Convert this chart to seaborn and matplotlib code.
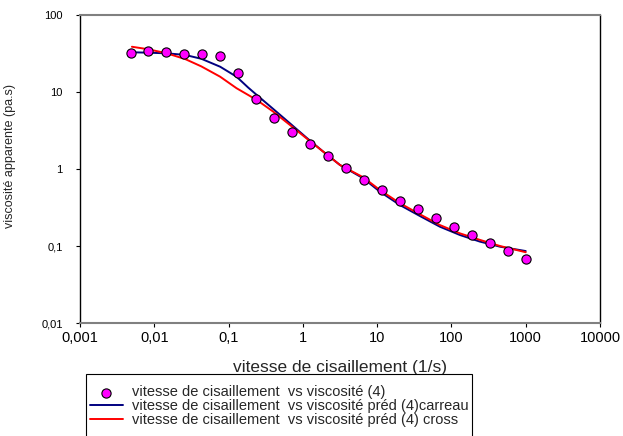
import pandas as pd
import seaborn as sns
import matplotlib.pyplot as plt
from matplotlib.patches import Rectangle
from matplotlib.ticker import FixedLocator, NullLocator

# measured points: shear rate (1/s) vs apparent viscosity (Pa.s)
shear_rate = [0.0048, 0.0083, 0.0145, 0.025, 0.044, 0.077, 0.135, 0.235, 0.41, 0.72,
              1.25, 2.2, 3.8, 6.7, 11.6, 20.4, 35.6, 62, 108, 189, 331, 578, 1000]
viscosity = [31.8, 34.1, 32.8, 31.4, 31.2, 29.1, 17.8, 8.0, 4.6, 3.05,
             2.09, 1.49, 1.03, 0.73, 0.53, 0.38, 0.30, 0.23, 0.177, 0.14, 0.11, 0.087, 0.067]

# model curves
fit_rate = [0.005, 0.0083, 0.0147, 0.026, 0.043, 0.077, 0.128, 0.184, 0.24, 0.40, 0.67,
            1.12, 1.88, 3.16, 6.5, 10.9, 20.3, 37.7, 70, 130, 242, 450, 1000]
carreau = [32.8, 32.4, 31.8, 30.3, 27.0, 21.3, 15.8, 11.4, 9.14, 6.01, 3.92,
           2.55, 1.68, 1.127, 0.757, 0.507, 0.340, 0.245, 0.178, 0.139, 0.114, 0.098, 0.086]
cross = [38.7, 35.9, 31.8, 26.8, 21.5, 15.8, 11.2, 9.14, 7.87, 5.55, 3.73,
         2.50, 1.68, 1.127, 0.780, 0.533, 0.359, 0.258, 0.187, 0.146, 0.120, 0.100, 0.083]

x_ticks = [0.001, 0.01, 0.1, 1, 10, 100, 1000, 10000]
x_tick_labels = ["0,001", "0,01", "0,1", "1", "10", "100", "1000", "10000"]
y_ticks = [0.01, 0.1, 1, 10, 100]
y_tick_labels = ["0,01", "0,1", "1", "10", "100"]

label_pts = "vitesse de cisaillement  vs viscosité (4)"
label_carreau = "vitesse de cisaillement  vs viscosité préd (4)carreau"
label_cross = "vitesse de cisaillement  vs viscosité préd (4) cross"

sns.set_style("white")
plt.rcParams["font.family"] = ["Liberation Sans", "DejaVu Sans"]

pts = pd.DataFrame({"rate": shear_rate, "visc": viscosity})
fits = pd.DataFrame({"rate": fit_rate, "carreau": carreau, "cross": cross})

fig = plt.figure(figsize=(6.23, 4.36), dpi=100)
ax = fig.add_axes([80 / 623, 113 / 436, 520 / 623, 308 / 436])
ax.set_xscale("log")
ax.set_yscale("log")

sns.scatterplot(data=pts, x="rate", y="visc", ax=ax, color="#FF00FF", edgecolor="black",
                linewidth=0.8, s=44, label=label_pts, zorder=3)
sns.lineplot(data=fits, x="rate", y="carreau", ax=ax, color="#000080", linewidth=1.4,
             label=label_carreau, zorder=2)
sns.lineplot(data=fits, x="rate", y="cross", ax=ax, color="#FF0000", linewidth=1.4,
             label=label_cross, zorder=2)

ax.set_xlim(0.001, 10000)
ax.set_ylim(0.01, 100)
ax.xaxis.set_major_locator(FixedLocator(x_ticks))
ax.yaxis.set_major_locator(FixedLocator(y_ticks))
ax.xaxis.set_minor_locator(NullLocator())
ax.yaxis.set_minor_locator(NullLocator())
ax.set_xticklabels(x_tick_labels, fontsize=10.5)
ax.set_yticklabels(y_tick_labels, fontsize=8)
ax.tick_params(axis="x", bottom=True, direction="out", length=3, width=0.8, pad=3, colors="black")
ax.tick_params(axis="y", left=True, direction="out", length=3, width=0.8, pad=9.4, colors="black")

for side in ["left", "right"]:
    ax.spines[side].set_color("black")
    ax.spines[side].set_linewidth(1.0)
for side in ["top", "bottom"]:
    ax.spines[side].set_color("#808080")
    ax.spines[side].set_linewidth(1.5)

ax.set_xlabel("vitesse de cisaillement (1/s)", fontsize=12.5)
ax.set_ylabel("viscosité apparente (pa.s)", fontsize=9)
ax.xaxis.set_label_coords(0.5, -0.12)
ax.yaxis.set_label_coords(-0.123, 0.542)

handles, labels = ax.get_legend_handles_labels()
order = [labels.index(label_pts), labels.index(label_carreau), labels.index(label_cross)]
ax.get_legend().remove()
fig.legend([handles[i] for i in order], [labels[i] for i in order],
           loc="upper left", bbox_to_anchor=(90 / 623, 1 - 385.4 / 436),
           frameon=False, borderpad=0, fontsize=10.5, handlelength=2.26,
           handletextpad=0.6, labelspacing=0.0, borderaxespad=0)
fig.add_artist(Rectangle((86 / 623, -0.05), (472 - 86) / 623, 0.05 + 1 - 374 / 436,
                         transform=fig.transFigure, fill=False, edgecolor="black",
                         linewidth=0.8, clip_on=False))

fig.savefig("out.png", dpi=100)
